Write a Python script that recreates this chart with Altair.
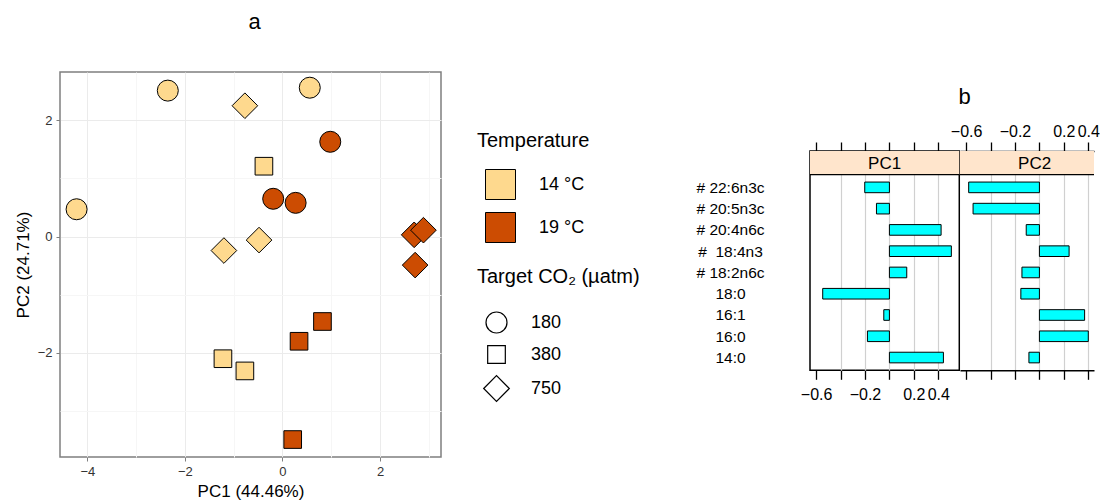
import json
import altair as alt
import pandas as pd

FONT = "Liberation Sans"

# ---------------- Panel a: PCA scores ----------------
pc1_scores = [-2.35, 0.56, -4.22, -0.77, -0.48, -1.20, -0.38, -1.22, -0.77,
              0.98, -0.19, 0.27, 0.82, 0.34, 0.21, 2.70, 2.89, 2.72]
pc2_scores = [2.51, 2.56, 0.47, 2.25, -0.06, -0.24, 1.21, -2.10, -2.31,
              1.63, 0.65, 0.58, -1.46, -1.80, -3.49, 0.03, 0.11, -0.49]
temperature = ["14 °C", "14 °C", "14 °C", "14 °C", "14 °C", "14 °C", "14 °C", "14 °C", "14 °C",
               "19 °C", "19 °C", "19 °C", "19 °C", "19 °C", "19 °C", "19 °C", "19 °C", "19 °C"]
target_co2 = ["180", "180", "180", "750", "750", "750", "380", "380", "380",
              "180", "180", "180", "380", "380", "380", "750", "750", "750"]
temperature_levels = ["14 °C", "19 °C"]
co2_levels = ["180", "380", "750"]

scatter_x_ticks = [-4, -3, -2, -1, 0, 1, 2, 3]
scatter_y_ticks = [-3, -2, -1, 0, 1, 2]

# ---------------- Panel b: loadings ----------------
fatty_acids = ["# 22:6n3c", "# 20:5n3c", "# 20:4n6c", "#\u00a0\u00a018:4n3", "# 18:2n6c",
               "18:0", "16:1", "16:0", "14:0"]
loadings_pc1 = [-0.202, -0.106, 0.423, 0.507, 0.142, -0.546, -0.046, -0.180, 0.442]
loadings_pc2 = [-0.579, -0.543, -0.108, 0.243, -0.143, -0.152, 0.370, 0.400, -0.086]
panel_names = ["PC1", "PC2"]
loading_ticks = [-0.6, -0.4, -0.2, 0.0, 0.2, 0.4]

# ---------------- styles ----------------
TEMP_COLORS = ["#FED98E", "#CC4C02"]
SHAPES = ["circle", "M-0.84,-0.84H0.84V0.84H-0.84Z", "M-1.22,0L0,-1.22L1.22,0L0,1.22Z"]
POINT_SIZE = 441

even_test = "datum.value % 2 === 0"

def scatter_axis(values, title, orient):
    return alt.Axis(
        values=values, title=title, orient=orient,
        labelExpr=f"{even_test} ? datum.label : ''",
        grid=True,
        gridColor={"condition": {"test": even_test, "value": "#EBEBEB"}, "value": "#F6F6F6"},
        tickOpacity={"condition": {"test": even_test, "value": 1}, "value": 0},
        domain=False, tickColor="#7F7F7F", tickSize=4, tickWidth=1,
        labelFontSize=13, labelColor="#333333", labelFont=FONT,
        labelOverlap=False, labelFlush=False, labelPadding=4,
        titleFontSize=17, titleFontWeight="normal", titleColor="black", titleFont=FONT,
        titlePadding=5,
    )

df_a = pd.DataFrame({"PC1": pc1_scores, "PC2": pc2_scores,
                     "Temperature": temperature, "CO2": target_co2})

scatter = alt.Chart(df_a).mark_point(
    filled=True, size=POINT_SIZE, stroke="black", strokeWidth=1, opacity=1
).encode(
    x=alt.X("PC1:Q", scale=alt.Scale(domain=[-4.56, 3.25], nice=False, zero=False),
            axis=scatter_axis(scatter_x_ticks, "PC1 (44.46%)", "bottom")),
    y=alt.Y("PC2:Q", scale=alt.Scale(domain=[-3.79, 2.83], nice=False, zero=False),
            axis=scatter_axis(scatter_y_ticks, "PC2 (24.71%)", "left")),
    fill=alt.Fill("Temperature:N",
                  scale=alt.Scale(domain=temperature_levels, range=TEMP_COLORS),
                  legend=alt.Legend(orient="none", legendX=417, legendY=59,
                                    title="Temperature", titleFontSize=20,
                                    titleFontWeight="normal", titleColor="black", titleFont=FONT,
                                    labelFontSize=18, labelColor="black", labelFont=FONT,
                                    symbolType="square", symbolSize=900,
                                    symbolStrokeColor="black", symbolStrokeWidth=1,
                                    symbolOpacity=1, symbolOffset=8, labelOffset=23,
                                    rowPadding=8, titlePadding=18)),
    shape=alt.Shape("CO2:N",
                    scale=alt.Scale(domain=co2_levels, range=SHAPES),
                    legend=alt.Legend(orient="none", legendX=417, legendY=195,
                                      title="Target CO₂ (µatm)", titleFontSize=20,
                                      titleFontWeight="normal", titleColor="black", titleFont=FONT,
                                      labelFontSize=18, labelColor="black", labelFont=FONT,
                                      symbolSize=POINT_SIZE, symbolFillColor="white",
                                      symbolStrokeColor="black", symbolStrokeWidth=1.2,
                                      symbolOpacity=1, symbolOffset=8, labelOffset=23,
                                      rowPadding=7, titlePadding=24)),
).properties(
    width=381, height=385,
    title=alt.Title("a", fontSize=22, font=FONT, fontWeight="normal", color="black",
                    anchor="middle", frame="group", offset=38, dx=4),
    view=alt.ViewBackground(stroke="#7F7F7F", strokeWidth=1.5, fill="white"),
)

# ---------------- Panel b ----------------
PANEL_H = 219.3
Y_DOMAIN = [-0.71, 9.6]
STRIP_PX = (0.4 - Y_DOMAIN[0]) / (Y_DOMAIN[1] - Y_DOMAIN[0]) * PANEL_H
FULL_X = [-0.65, 0.572]
MID_X = (FULL_X[0] + FULL_X[1]) / 2

df_b = pd.DataFrame({
    "acid": fatty_acids,
    "row": list(range(1, len(fatty_acids) + 1)),
    "PC1": loadings_pc1,
    "PC2": loadings_pc2,
})
hide_expr = "abs(datum.value + 0.4) < 0.01 || abs(datum.value) < 0.01 ? '' : datum.label"
label_lookup = f"{json.dumps(fatty_acids, ensure_ascii=False)}[round(datum.value) - 1]"


def loading_axis(orient, show_labels, show_domain, with_grid):
    kw = dict(
        orient=orient, values=loading_ticks, format=".1f", title=None,
        labels=show_labels, labelExpr=hide_expr, labelFontSize=16, labelFont=FONT,
        labelColor="black", labelOverlap=False, labelFlush=False,
        labelPadding=3 if orient == "top" else 7,
        ticks=True, tickSize=9, tickColor="black", tickWidth=1.3,
        domain=show_domain, domainColor="black", domainWidth=1.5,
        grid=with_grid,
    )
    if with_grid:
        kw["gridColor"] = "#D0D0D0"
        kw["gridWidth"] = 1.2
        kw["gridOpacity"] = {"condition": {"test": "datum.value < -0.5", "value": 0}, "value": 1}
    return alt.Axis(**kw)


def loading_panel(name, width, xmax, first):
    xscale = alt.Scale(domain=[FULL_X[0], xmax], nice=False, zero=False)
    yscale = alt.Scale(domain=Y_DOMAIN, reverse=True, nice=False, zero=False)
    if first:
        yaxis = alt.Axis(values=df_b["row"].tolist(), labelExpr=label_lookup, title=None,
                         ticks=False, domain=False, grid=False, labelAlign="center",
                         labelBaseline="middle", labelPadding=80, labelFontSize=15.5,
                         labelFont=FONT, labelColor="black", labelOverlap=False,
                         labelFlush=False)
    else:
        yaxis = None
    bars = alt.Chart(df_b).transform_calculate(
        y_top="datum.row - 0.25", y_bot="datum.row + 0.25"
    ).mark_rect(fill="#00FFFF", stroke="black", strokeWidth=1).encode(
        x=alt.X(f"{name}:Q", scale=xscale,
                axis=loading_axis("bottom", first, not first, True)),
        x2=alt.datum(0),
        y=alt.Y("y_top:Q", scale=yscale, axis=yaxis),
        y2="y_bot:Q",
    )
    strip = alt.Chart(pd.DataFrame({"p": [name]})).mark_rect(fill="#FFE5CC").encode(
        x=alt.value(0), x2=alt.value(width), y=alt.value(0), y2=alt.value(STRIP_PX)
    )
    strip_line = alt.Chart(pd.DataFrame({"p": [name]})).mark_rule(
        color="black", strokeWidth=1.2
    ).encode(x=alt.value(0), x2=alt.value(width), y=alt.value(STRIP_PX))
    strip_text = alt.Chart(pd.DataFrame({"p": [name], "mid": [MID_X]})).mark_text(
        font=FONT, fontSize=17, color="black", baseline="middle"
    ).encode(
        x=alt.X("mid:Q", scale=xscale,
                axis=loading_axis("top", not first, not first, False)),
        y=alt.value(STRIP_PX / 2 + 1),
        text="p:N",
    )
    view = (alt.ViewBackground(stroke="black", strokeWidth=1.5, fill="white") if first
            else alt.ViewBackground(stroke="transparent", fill="white"))
    return alt.layer(bars, strip, strip_line, strip_text).resolve_axis(
        x="independent"
    ).properties(width=width, height=PANEL_H, view=view)


PX_PER_UNIT = 149.3 / (FULL_X[1] - FULL_X[0])
pc1_panel = loading_panel(panel_names[0], 149.3, FULL_X[1], True)
pc2_panel = loading_panel(panel_names[1], 134, FULL_X[0] + 134 / PX_PER_UNIT, False)

inner = alt.hconcat(pc1_panel, pc2_panel, spacing=0, bounds="flush").properties(
    title=alt.Title("b", fontSize=22, font=FONT, fontWeight="normal", color="black",
                    anchor="middle", dx=67, offset=14)
)

spacer = alt.Chart(pd.DataFrame({"s": [0]})).mark_point(opacity=0).encode(
    x=alt.value(0), y=alt.value(0)
).properties(width=10, height=12, view=alt.ViewBackground(stroke="transparent"))

b_block = alt.vconcat(spacer, inner, spacing=0)

chart = alt.hconcat(scatter, b_block, spacing=253).properties(
    padding={"left": 5, "top": 2, "right": 0, "bottom": 0}
).configure(font=FONT).configure_view(stroke="transparent")

chart.save("out.html", embed_options={"renderer": "svg", "actions": False})
